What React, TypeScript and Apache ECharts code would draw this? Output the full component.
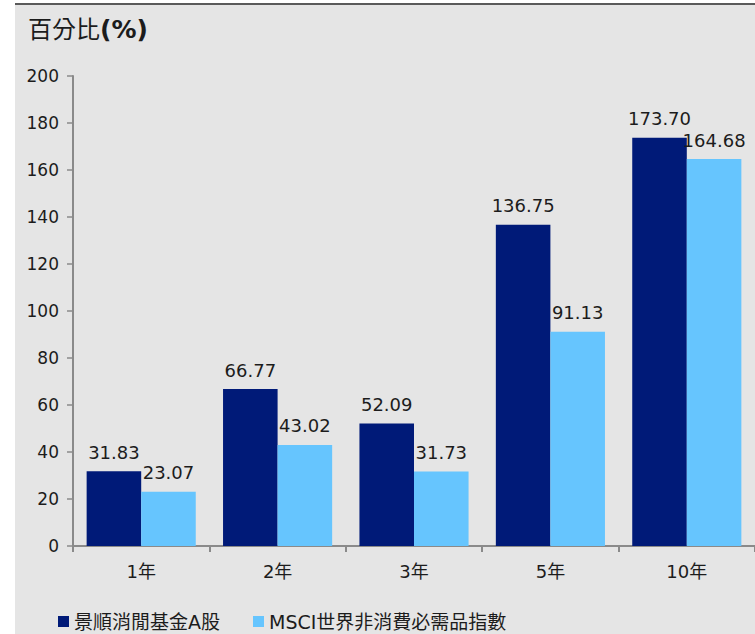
import React, { useEffect, useRef } from "react";
import * as echarts from "echarts";

const categories = ["1年", "2年", "3年", "5年", "10年"];
const fundValues = [31.83, 66.77, 52.09, 136.75, 173.7];
const indexValues = [23.07, 43.02, 31.73, 91.13, 164.68];
const seriesNames = ["景順消閒基金A股", "MSCI世界非消費必需品指數"];
const yTicks = { min: 0, max: 200, interval: 20 };

const FONT = "'DejaVu Sans', 'Noto Sans CJK TC', sans-serif";
const TEXT = "#1c1c1c";

export default function App() {
  const ref = useRef<HTMLDivElement>(null);
  useEffect(() => {
    if (!ref.current) return;
    const chart = echarts.init(ref.current, undefined, { renderer: "svg" });
    chart.setOption({
      animation: false,
      backgroundColor: "#ffffff",
      textStyle: { fontFamily: FONT },
      graphic: [
        { type: "rect", z: -10, shape: { x: 15, y: 4, width: 740, height: 630 }, style: { fill: "#e5e5e5" } },
        { type: "line", z: -9, shape: { x1: 15, y1: 4, x2: 755, y2: 4 }, style: { stroke: "#5a5a5a", lineWidth: 2 } },
        {
          type: "text",
          left: 28,
          top: 17,
          style: {
            text: "{a|百分比}{b|(%)}",
            rich: {
              a: { fontSize: 24, fontFamily: FONT, fill: TEXT },
              b: { fontSize: 25, fontWeight: "bold", fontFamily: FONT, fill: TEXT },
            },
          },
        },
      ],
      legend: {
        left: 53,
        top: 607,
        itemWidth: 11,
        itemHeight: 11,
        itemGap: 33,
        icon: "rect",
        textStyle: { fontSize: 19, color: TEXT, fontFamily: FONT },
        data: seriesNames,
      },
      grid: { left: 73, right: 0, top: 76, bottom: 88, containLabel: false },
      xAxis: {
        type: "category",
        data: categories,
        axisLine: { lineStyle: { color: "#8a8a8a", width: 2 } },
        axisTick: { show: true, length: 6, lineStyle: { color: "#8a8a8a", width: 2 } },
        axisLabel: { fontSize: 18, color: TEXT, margin: 16, fontFamily: FONT },
      },
      yAxis: {
        type: "value",
        min: yTicks.min,
        max: yTicks.max,
        interval: yTicks.interval,
        splitLine: { show: false },
        axisLine: { show: true, lineStyle: { color: "#8a8a8a", width: 2 } },
        axisTick: { show: true, length: 6, lineStyle: { color: "#8a8a8a", width: 1.5 } },
        axisLabel: { fontSize: 17, color: TEXT, margin: 14, fontFamily: FONT },
      },
      series: [
        {
          name: seriesNames[0],
          type: "bar",
          data: fundValues,
          barGap: "0%",
          barCategoryGap: "20%",
          itemStyle: { color: "#001a78" },
          label: {
            show: true,
            position: "top",
            distance: 10,
            fontSize: 18,
            color: TEXT,
            fontFamily: FONT,
            formatter: (p: any) => Number(p.value).toFixed(2),
          },
        },
        {
          name: seriesNames[1],
          type: "bar",
          data: indexValues,
          barGap: "0%",
          barCategoryGap: "20%",
          itemStyle: { color: "#66c5fe" },
          label: {
            show: true,
            position: "top",
            distance: 10,
            fontSize: 18,
            color: TEXT,
            fontFamily: FONT,
            formatter: (p: any) => Number(p.value).toFixed(2),
          },
        },
      ],
    });
    return () => chart.dispose();
  }, []);
  return (
    <div style={{ position: "fixed", left: 0, top: 0, width: 755, height: 634 }}>
      <div ref={ref} style={{ width: 755, height: 634 }} />
    </div>
  );
}
